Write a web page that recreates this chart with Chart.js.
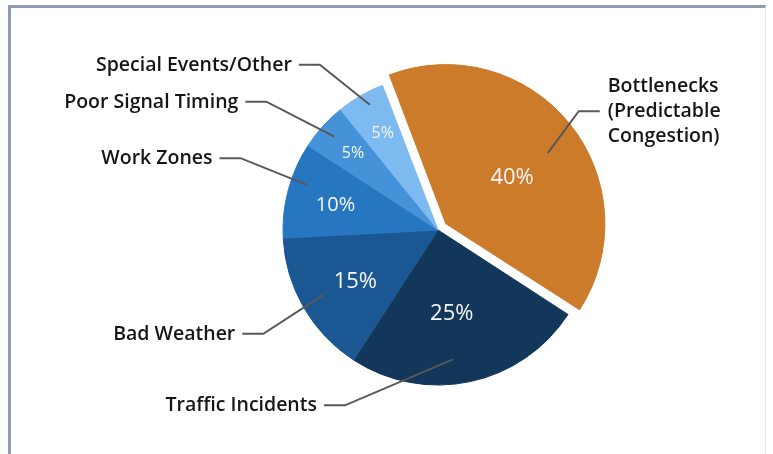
<!DOCTYPE html>
<html><head><meta charset="utf-8">
<script src="https://cdn.jsdelivr.net/npm/chart.js@4"></script>
<style>
html,body{margin:0;padding:0;background:#fff;}
#wrap{position:relative;width:773px;height:454px;overflow:hidden;background:#fff;}
#frame{position:absolute;left:8px;top:5px;width:754px;height:470px;border-left:3px solid #8d9cb0;border-top:3px solid #8d9cb0;border-right:1px solid #e2e9f2;}
canvas{position:absolute;left:0;top:0;}
</style></head><body>
<div id="wrap"><div id="frame"></div><canvas id="c" width="773" height="454"></canvas></div>
<script>
// ---- data ----
const categories = ['Bottlenecks (Predictable Congestion)', 'Traffic Incidents', 'Bad Weather', 'Work Zones', 'Poor Signal Timing', 'Special Events/Other'];
const values = [40, 25, 15, 10, 5, 5];
const valueLabels = values.map(v => v + '%');

// ---- styles ----
const colors = ['#cc7b2a', '#12375b', '#1b5893', '#2777c0', '#4592d8', '#7dbaf0'];
const offsets = [40, 0, 0, 0, 0, 0];
const FONT = '"Open Sans", "Noto Sans", sans-serif';
// t: position along slice (0..1), frac: fraction of radius, elbow: offset of leader elbow from anchor
const leaderStyle = [
  {t: .53, frac: .80, elbow: [31, -42], side: 'right', wrap: true},
  {t: .56, frac: .84, elbow: [-108, 46], side: 'left'},
  {t: .51, frac: .85, elbow: [-60, 39], side: 'left'},
  {t: .61, frac: .89, elbow: [-67, -27], side: 'left'},
  {t: .50, frac: .90, elbow: [-68, -35], side: 'left'},
  {t: .58, frac: .92, elbow: [-50, -40], side: 'left'}
];
const pctStyle = [
  {t: .53, frac: .52, size: 22},
  {t: .53, frac: .55, size: 22},
  {t: .46, frac: .63, size: 22},
  {t: .46, frac: .68, size: 20},
  {t: .51, frac: .74, size: 16},
  {t: .52, frac: .72, size: 16}
];

const labelPlugin = {
  id: 'labels',
  afterDatasetsDraw(chart) {
    const ctx = chart.ctx;
    const arcs = chart.getDatasetMeta(0).data;
    arcs.forEach((arc, i) => {
      const p = arc.getProps(['x', 'y', 'startAngle', 'endAngle', 'outerRadius'], true);
      const off = (arc.options.offset || 0) / 4;
      const mid = (p.startAngle + p.endAngle) / 2;
      const cx = p.x + Math.cos(mid) * off, cy = p.y + Math.sin(mid) * off;
      // percentage
      const ps = pctStyle[i];
      const pa = p.startAngle + (p.endAngle - p.startAngle) * ps.t;
      const px = cx + Math.cos(pa) * p.outerRadius * ps.frac;
      const py = cy + Math.sin(pa) * p.outerRadius * ps.frac;
      ctx.save();
      ctx.fillStyle = '#f7f7f7';
      ctx.font = ps.size + 'px ' + FONT;
      ctx.textAlign = 'center';
      ctx.textBaseline = 'middle';
      ctx.fillText(valueLabels[i], px, py);
      ctx.restore();
      // leader
      const ls = leaderStyle[i];
      const la = p.startAngle + (p.endAngle - p.startAngle) * ls.t;
      const ax = cx + Math.cos(la) * p.outerRadius * ls.frac;
      const ay = cy + Math.sin(la) * p.outerRadius * ls.frac;
      const ex = ax + ls.elbow[0], ey = ay + ls.elbow[1];
      const dir = ls.side === 'right' ? 1 : -1;
      const hx = ex + dir * 21;
      ctx.save();
      ctx.strokeStyle = '#585858';
      ctx.lineWidth = 2;
      ctx.beginPath();
      ctx.moveTo(ax, ay); ctx.lineTo(ex, ey); ctx.lineTo(hx, ey);
      ctx.stroke();
      ctx.fillStyle = '#161616';
      ctx.font = '600 19.5px ' + FONT;
      ctx.textBaseline = 'alphabetic';
      if (ls.wrap) {
        const lines = categories[i].split(' ');
        ctx.textAlign = 'left';
        const lh = 25;
        lines.forEach((ln, k) => {
          ctx.fillText(ln, hx + 8, ey + 6 + (k - (lines.length - 1) / 2) * lh);
        });
      } else {
        ctx.textAlign = dir > 0 ? 'left' : 'right';
        ctx.fillText(categories[i], hx + dir * 7, ey + 6);
      }
      ctx.restore();
    });
  }
};

new Chart(document.getElementById('c'), {
  type: 'pie',
  data: {
    labels: categories,
    datasets: [{
      data: values,
      backgroundColor: colors,
      borderColor: colors,
      borderWidth: 1,
      offset: offsets
    }]
  },
  options: {
    responsive: false,
    animation: false,
    events: [],
    rotation: -21,
    radius: 155,
    layout: {padding: {left: 238, right: 135, top: 69, bottom: 63}},
    plugins: {legend: {display: false}, tooltip: {enabled: false}}
  },
  plugins: [labelPlugin]
});
</script>
</body></html>
